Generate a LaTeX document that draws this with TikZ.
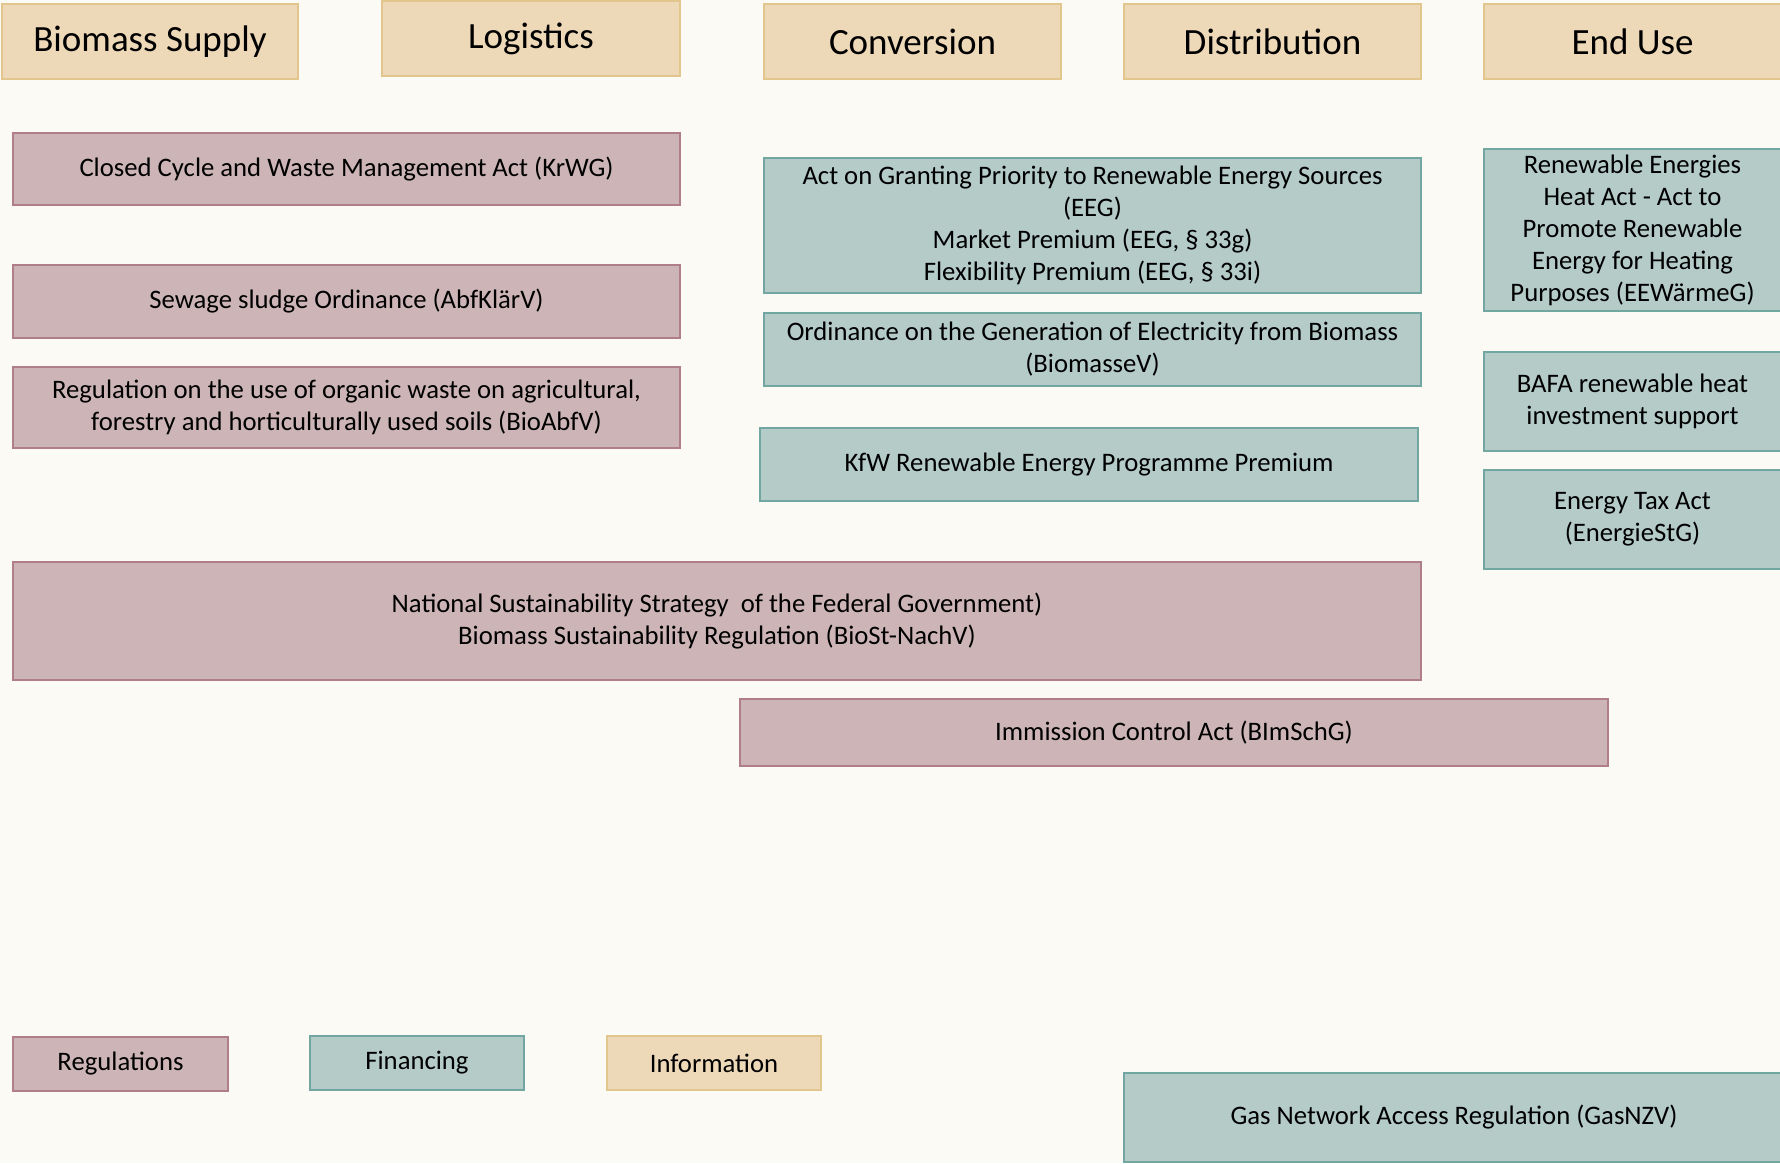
\documentclass[tikz,border=0pt]{standalone}
\usepackage{fontspec}
\setmainfont{Carlito}
\definecolor{bgc}{HTML}{FCFAF5}
\definecolor{tanf}{HTML}{EDD8B8}
\definecolor{tand}{HTML}{E3C58E}
\definecolor{rosef}{HTML}{CDB5B7}
\definecolor{rosed}{HTML}{B07E86}
\definecolor{tealf}{HTML}{B4CBC8}
\definecolor{teald}{HTML}{72A6A1}
\tikzset{
  base/.style={anchor=north west, line width=2pt, inner sep=0pt, align=flush center, font=\fontsize{26.7}{32}\selectfont},
  info/.style={base, fill=tanf, draw=tand},
  infohead/.style={info, font=\fontsize{37}{44}\selectfont},
  regl/.style={base, fill=rosef, draw=rosed},
  fin/.style={base, fill=tealf, draw=teald},
}
\begin{document}
\begin{tikzpicture}[x=1pt,y=-1pt]
\fill[bgc] (0,0) rectangle (1780,1163);
\useasboundingbox (0,0) rectangle (1780,1163);
% headers
\node[infohead, minimum width=296, minimum height=75] (h1) at (1,3) {Biomass Supply};
\node[infohead, minimum width=298, minimum height=75] (h2) at (381,0) {Logistics};
\node[infohead, minimum width=297, minimum height=75] (h3) at (763,3) {Conversion};
\node[infohead, minimum width=297, minimum height=75] (h4) at (1123,3) {Distribution};
\node[infohead, minimum width=297, minimum height=75] (h5) at (1483,3) {End Use};
% regulations left
\node[regl, minimum width=667, minimum height=72] (krwg) at (12,132) {Closed Cycle and Waste Management Act (KrWG)};
\node[regl, minimum width=667, minimum height=73] (abf) at (12,264) {Sewage sludge Ordinance (AbfKlärV)};
\node[regl, minimum width=667, minimum height=81, text width=650] (bioabf) at (12,366) {Regulation on the use of organic waste on agricultural,\\ forestry and horticulturally used soils (BioAbfV)};
% financing middle
\node[fin, minimum width=657, minimum height=135, text width=645] (eeg) at (763,157) {Act on Granting Priority to Renewable Energy Sources\\ (EEG)\\ Market Premium (EEG, § 33g)\\ Flexibility Premium (EEG, § 33i)};
\node[fin, minimum width=657, minimum height=73, text width=645] (biov) at (763,312) {Ordinance on the Generation of Electricity from Biomass\\ (BiomasseV)};
\node[fin, minimum width=658, minimum height=73] (kfw) at (759,427) {KfW Renewable Energy Programme Premium};
% end use
\node[fin, minimum width=297, minimum height=162, text width=285] (eew) at (1483,148) {Renewable Energies\\ Heat Act - Act to\\ Promote Renewable\\ Energy for Heating\\ Purposes (EEWärmeG)};
\node[fin, minimum width=297, minimum height=99, text width=285] (bafa) at (1483,351) {BAFA renewable heat\\ investment support};
\node[fin, minimum width=297, minimum height=99, text width=285] (est) at (1483,469) {Energy Tax Act\\ (EnergieStG)};
% wide
\node[regl, minimum width=1408, minimum height=118, text width=1380] (nss) at (12,561) {National Sustainability Strategy\ \ of the Federal Government)\\ Biomass Sustainability Regulation (BioSt-NachV)};
\node[regl, minimum width=868, minimum height=67] (bim) at (739,698) {Immission Control Act (BImSchG)};
% legend
\node[regl, minimum width=215, minimum height=54] (lreg) at (12,1036) {Regulations};
\node[fin, minimum width=214, minimum height=54] (lfin) at (309,1035) {Financing};
\node[info, minimum width=214, minimum height=54] (linf) at (606,1035) {Information};
\node[fin, minimum width=660, minimum height=89] (gas) at (1123,1072) {Gas Network Access Regulation (GasNZV)};
\end{tikzpicture}
\end{document}
